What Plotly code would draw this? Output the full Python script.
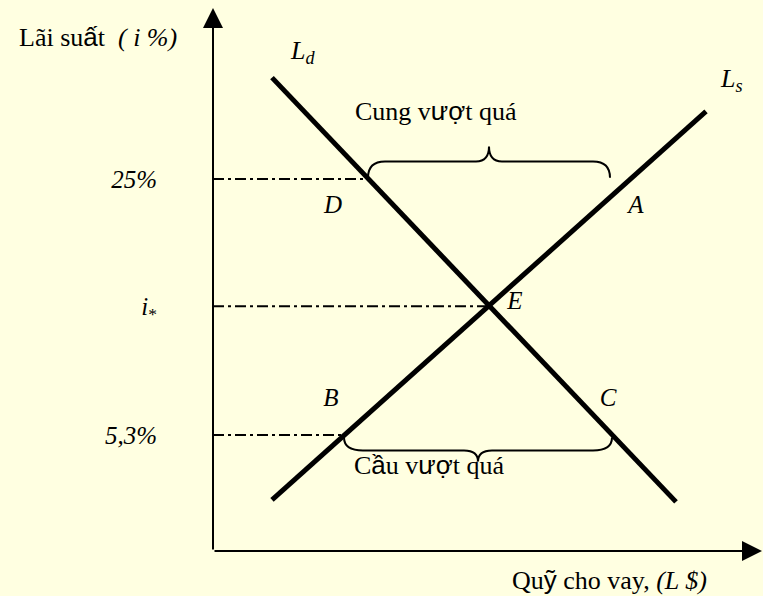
import plotly.graph_objects as go

# Cung - cầu quỹ cho vay (trục hoành: lượng vốn, đơn vị tùy ý; trục tung: lãi suất %)
ld_quy = [5.9, 46.3]
ld_lai = [32.8, 0.15]
ls_quy = [5.9, 49.3]
ls_lai = [0.3, 30.2]

muc_lai = [25, 15.2, 5.3]
nhan_lai = ["<i>25%</i>", "<i>i</i><sub>*</sub>", "<i>5,3%</i>"]
diem_cat = [15.5, 27.6, 13.1]          # D, E, B: where the dash-dot guides stop

ten_diem = ["D", "A", "E", "B", "C"]
quy_diem = [12.0, 42.3, 30.2, 11.8, 39.5]
lai_diem = [22.85, 22.85, 15.45, 8.0, 8.0]

brace_tren = [15.5, 39.7]               # excess supply span at 25%
brace_duoi = [13.1, 39.9]               # excess demand span at 5,3%

X_MAX = 54.9
Y_MIN, Y_MAX = -3.63, 38.16

SERIF = "Liberation Serif"
SANS = "Liberation Sans"
BG = "#FFFFE1"


def sans(s):
    # the original renders these Vietnamese letters with a fallback sans font
    return f'<span style="font-family:{SANS}">{s}</span>'


def brace_path(x0, x1, y, h, tip, r, rt, up=True):
    s = 1 if up else -1
    xm = (x0 + x1) / 2
    yl = y + s * h
    yt = y + s * (h + tip)
    return (f"M{x0},{y} Q{x0},{yl} {x0 + r},{yl} L{xm - rt},{yl} "
            f"Q{xm},{yl} {xm},{yt} Q{xm},{yl} {xm + rt},{yl} "
            f"L{x1 - r},{yl} Q{x1},{yl} {x1},{y}")


fig = go.Figure()

# dash-dot guides from the rate axis
for lai, xc in zip(muc_lai, diem_cat):
    fig.add_trace(go.Scatter(x=[0, xc], y=[lai, lai], mode="lines",
                             line=dict(color="black", width=2, dash="11px,4px,3px,4px"),
                             hoverinfo="skip"))

fig.add_trace(go.Scatter(x=ld_quy, y=ld_lai, mode="lines",
                         line=dict(color="black", width=5), name="Ld"))
fig.add_trace(go.Scatter(x=ls_quy, y=ls_lai, mode="lines",
                         line=dict(color="black", width=5), name="Ls"))

fig.add_trace(go.Scatter(x=quy_diem, y=lai_diem, mode="text", text=[f"<i>{t}</i>" for t in ten_diem],
                         textfont=dict(family=SERIF, size=25, color="black"), hoverinfo="skip"))

fig.add_shape(type="path", xref="x", yref="y",
              path=brace_path(brace_tren[0], brace_tren[1], 25.1, 1.25, 1.15, 1.7, 1.3, up=True),
              line=dict(color="black", width=2))
fig.add_shape(type="path", xref="x", yref="y",
              path=brace_path(brace_duoi[0], brace_duoi[1], 5.1, 1.0, 0.85, 1.9, 1.4, up=False),
              line=dict(color="black", width=2))

txt = dict(family=SERIF, size=26, color="black")
notes = [
    (8.9, 34.8, "<i>L<sub>d</sub></i>"),
    (51.8, 32.6, "<i>L<sub>s</sub></i>"),
    (22.3, 30.2, "Cung v" + sans("ượ") + "t quá"),
    (21.6, 3.0, "C" + sans("ầ") + "u v" + sans("ượ") + "t quá"),
]
for x, y, t in notes:
    fig.add_annotation(x=x, y=y, text=t, showarrow=False, font=txt)

# axis titles
fig.add_annotation(xref="paper", yref="paper", x=-0.357, y=0.947, xanchor="left", yanchor="middle",
                   text="Lãi su" + sans("ấ") + "t  <i>( i %)</i>", showarrow=False, font=txt)
fig.add_annotation(xref="paper", yref="paper", x=0.722, y=-0.053, xanchor="center", yanchor="middle",
                   text="Qu" + sans("ỹ") + " cho vay, <i>(L $)</i>", showarrow=False, font=txt)

# axes drawn as arrows
for x, y in [(0, Y_MAX), (X_MAX, Y_MIN)]:
    fig.add_annotation(x=x, y=y, ax=0, ay=Y_MIN, axref="x", ayref="y", text="",
                       showarrow=True, arrowhead=2, arrowsize=2.0, arrowwidth=2,
                       arrowcolor="black", standoff=0)

fig.update_layout(
    width=763, height=596,
    margin=dict(l=213, r=1, t=8, b=45),
    paper_bgcolor=BG, plot_bgcolor=BG,
    showlegend=False,
    font=dict(family=SERIF, size=25, color="black"),
)
fig.update_xaxes(range=[0, X_MAX], showgrid=False, zeroline=False, showline=False,
                 showticklabels=False, ticks="")
fig.update_yaxes(range=[Y_MIN, Y_MAX], showgrid=False, zeroline=False, showline=False,
                 tickvals=muc_lai, ticktext=nhan_lai, ticks="", ticklabelstandoff=55,
                 tickfont=dict(family=SERIF, size=25, color="black"))

# drop the page's default body margin so the figure fills the window
fig.write_html("out.html", config={"displayModeBar": False},
               post_script=f"document.body.style.margin='0';document.body.style.background='{BG}';")
